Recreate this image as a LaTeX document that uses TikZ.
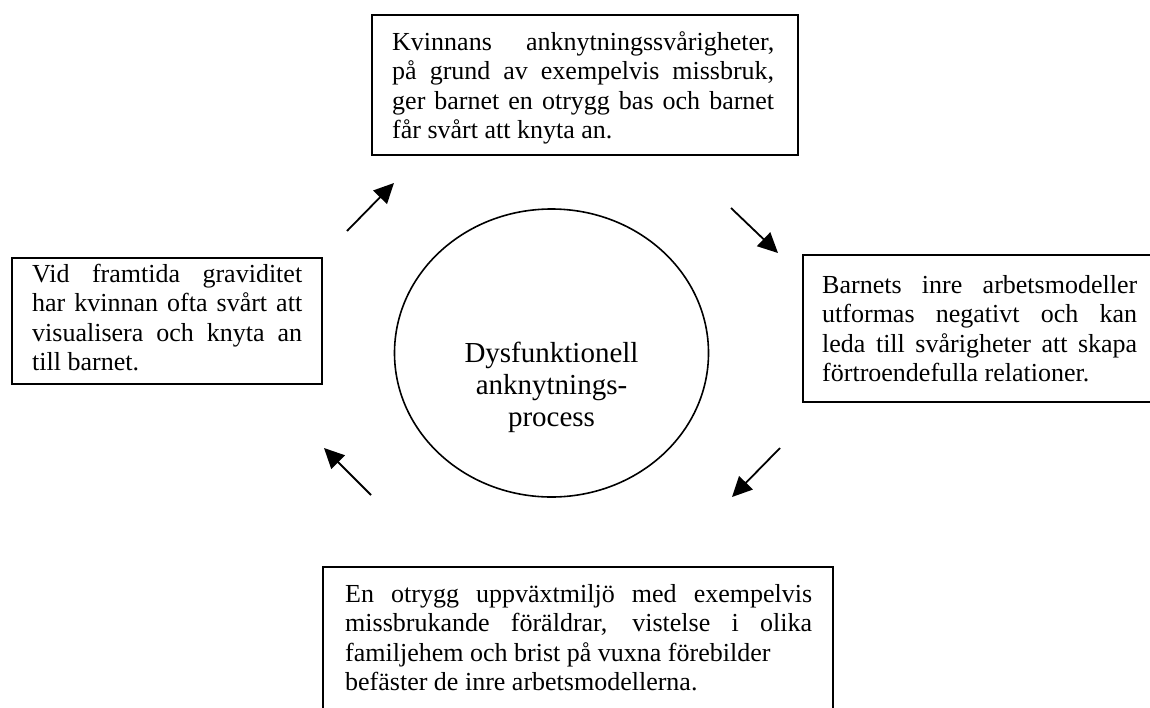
\documentclass[tikz,border=0pt]{standalone}
\usepackage{fontspec}
\setmainfont{Liberation Serif}
\usetikzlibrary{arrows.meta,shapes.geometric}
\hyphenpenalty=10000
\exhyphenpenalty=10000
\tolerance=10000
\pretolerance=-1
\hbadness=10000
\tikzset{
  frame/.style={draw=black, line width=1.6pt},
  boxtext/.style={inner sep=0pt, anchor=base west, align=justify, font=\fontsize{26}{29.5}\selectfont},
  proctext/.style={inner sep=0pt, anchor=base, text width=260pt, align=center, font=\fontsize{29}{32}\selectfont},
  procshape/.style={draw=black, line width=1.6pt, ellipse, inner sep=0pt},
  arr/.style={line width=1.8pt, -{Triangle[length=20pt,width=19pt]}},
}
\begin{document}
\begin{tikzpicture}[x=1pt,y=-1pt]
\clip (0,0) rectangle (1150,707);
\fill[white] (0,0) rectangle (1150,707);

% top box
\draw[frame] (372,15) rectangle (798,155);
\node[boxtext, text width=382pt] (ttop) at (392,50)
 {Kvinnans anknytningssvårigheter,\linebreak på grund av exempelvis missbruk,\linebreak ger barnet en otrygg bas och barnet\linebreak får svårt att knyta an.};

% right box
\draw[frame] (803,255) rectangle (1165,402);
\node[boxtext, text width=315pt] (tright) at (822,293)
 {Barnets inre arbetsmodeller\linebreak utformas negativt och kan\linebreak leda till svårigheter att skapa\linebreak förtroendefulla relationer.};

% left box
\draw[frame] (12,258) rectangle (322,384);
\node[boxtext, text width=270pt] (tleft) at (32,282)
 {Vid framtida graviditet\linebreak har kvinnan ofta svårt att\linebreak visualisera och knyta an\linebreak till barnet.};

% bottom box
\draw[frame] (323,567) rectangle (833,720);
\node[boxtext, text width=467pt] (tbottom) at (345,602)
 {En otrygg uppväxtmiljö med exempelvis\linebreak missbrukande föräldrar, vistelse i olika\linebreak familjehem och brist på vuxna förebilder\newline befäster de inre arbetsmodellerna.};

% centre ellipse
\node[procshape, minimum width=314pt, minimum height=288pt] (proc) at (551.5,353) {};
\node[proctext] (proct) at (551.5,362) {Dysfunktionell\\anknytnings-\\process};

% arrows
\coordinate (a1s) at (347,231); \coordinate (a1e) at (394,183);
\coordinate (a2s) at (731,208); \coordinate (a2e) at (778,253);
\coordinate (a3s) at (780,448); \coordinate (a3e) at (732,497);
\coordinate (a4s) at (371,495); \coordinate (a4e) at (324,448);
\draw[arr] (a1s) -- (a1e);
\draw[arr] (a2s) -- (a2e);
\draw[arr] (a3s) -- (a3e);
\draw[arr] (a4s) -- (a4e);
\end{tikzpicture}
\end{document}
